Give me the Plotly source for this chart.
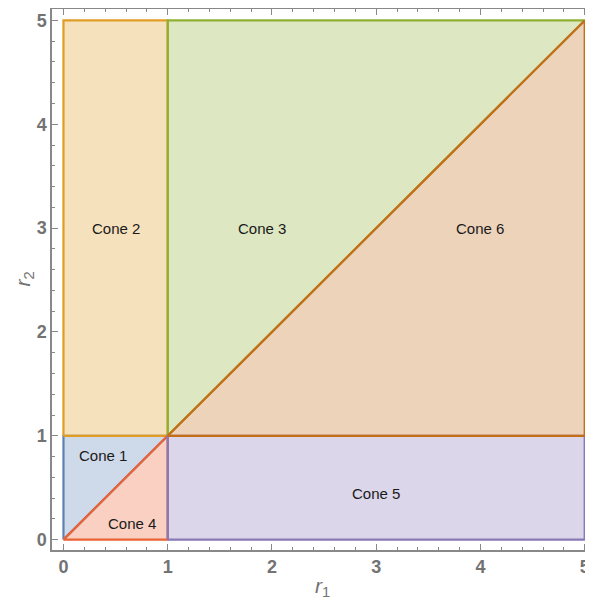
import plotly.graph_objects as go

# Data
cone_names = ["Cone 1", "Cone 2", "Cone 3", "Cone 4", "Cone 5", "Cone 6"]
cone_x = [
    [0, 0, 1, 0],
    [0, 0, 1, 1, 0],
    [1, 1, 5, 1],
    [0, 1, 1, 0],
    [1, 5, 5, 1, 1],
    [1, 5, 5, 1],
]
cone_y = [
    [0, 1, 1, 0],
    [1, 5, 5, 1, 1],
    [1, 5, 5, 1],
    [0, 0, 1, 0],
    [0, 0, 1, 1, 0],
    [1, 1, 5, 1],
]
edge_colors = ["#5E81B5", "#E19C24", "#8FB032", "#EB6235", "#8778B6", "#C56E1A"]
label_x = [0.38, 0.5, 1.9, 0.66, 3.0, 4.0]
label_y = [0.81, 3.0, 3.0, 0.16, 0.44, 3.0]
tick_vals = [0, 1, 2, 3, 4, 5]


def rgba(hexc, a):
    h = hexc.lstrip("#")
    r, g, b = int(h[0:2], 16), int(h[2:4], 16), int(h[4:6], 16)
    return f"rgba({r},{g},{b},{a})"


fig = go.Figure()
for name, xs, ys, c in zip(cone_names, cone_x, cone_y, edge_colors):
    fig.add_trace(go.Scatter(
        x=xs, y=ys, mode="lines", fill="toself",
        fillcolor=rgba(c, 0.3),
        line=dict(color=c, width=2.2),
        name=name, showlegend=False, hoverinfo="skip",
    ))

for name, lx, ly in zip(cone_names, label_x, label_y):
    fig.add_annotation(x=lx, y=ly, text=name, showarrow=False,
                       font=dict(family="Liberation Sans, Arial", size=15, color="#1a1a1a"))

axis_common = dict(
    tickvals=tick_vals,
    ticks="inside", ticklen=6, tickwidth=1, tickcolor="#888888",
    minor=dict(dtick=0.2, ticks="inside", ticklen=3, tickcolor="#888888", tickwidth=1),
    showline=True, linecolor="#888888", linewidth=1.5, mirror="ticks",
    showgrid=False, zeroline=False,
    tickfont=dict(family="Liberation Sans, Arial", size=18, color="#737373", weight="bold"),
)

fig.update_xaxes(range=[-0.11, 5.07], automargin=False, **axis_common)
fig.update_yaxes(range=[-0.1, 5.11], automargin=False, **axis_common)

fig.add_annotation(x=0.5, y=0, xref="paper", yref="paper",
                   yshift=-52, text="<i>r</i><sub>1</sub>", showarrow=False,
                   font=dict(family="Liberation Sans, Arial", size=21, color="#737373"))
fig.add_annotation(x=0, y=0.5, xref="paper", yref="paper",
                   xshift=-44, text="<i>r</i><sub>2</sub>", showarrow=False, textangle=-90,
                   font=dict(family="Liberation Sans, Arial", size=21, color="#737373"))

# page body has an 8px margin, so the figure is sized to fit the 593x601 window
fig.update_layout(
    width=585, height=593,
    margin=dict(l=44, r=1, t=1, b=51),
    paper_bgcolor="white", plot_bgcolor="white",
)

fig.write_html("out.html")
